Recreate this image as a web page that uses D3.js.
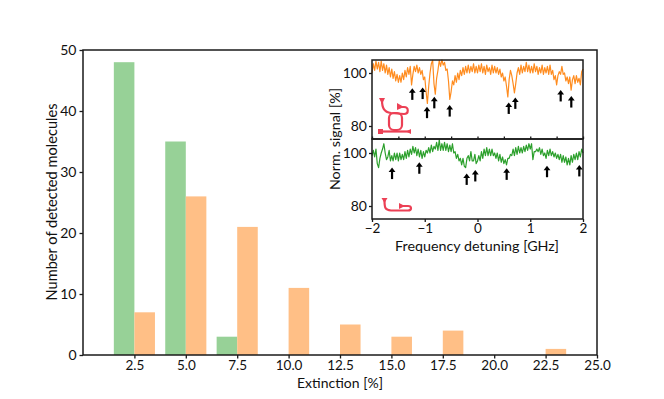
<!DOCTYPE html>
<html>
<head>
<meta charset="utf-8">
<script src="https://cdn.jsdelivr.net/npm/d3@7"></script>
<style>
  html, body { margin: 0; padding: 0; background: #fff; }
  text { font-family: Lato, "Open Sans", sans-serif; fill: #111; }
</style>
</head>
<body>
<svg id="chart" width="664" height="399"></svg>
<script>
// histogram: [left edge of bar, count]
const greenBins = [1.5, 4, 6.5];
const greenCounts = [48, 35, 3];
const orangeBins = [2.5, 5, 7.5, 10, 12.5, 15, 17.5, 22.5];
const orangeCounts = [7, 26, 21, 11, 5, 3, 4, 1];
const mainXTicks = [2.5, 5, 7.5, 10, 12.5, 15, 17.5, 20, 22.5, 25];
const mainYTicks = [0, 10, 20, 30, 40, 50];

// inset traces at 0.025 GHz steps from -2 GHz
const orangeSignal = [
  100, 103.5, 101, 104.5, 101.5, 104, 100.5, 104.5, 101, 103.5,
  100, 103, 99.5, 102, 98.5, 101.5, 98, 100.5, 97, 99.5,
  96.5, 99, 96.5, 100, 97.5, 101, 98.5, 102, 99.5, 102.5,
  95.5, 99.5, 102.5, 100.5, 103, 100, 102, 99.5, 101, 97.5,
  98.5, 93, 88.5, 95, 100, 103.5, 104.8, 96, 92, 98,
  101, 104.8, 102.5, 105, 103, 104, 101, 101.5, 97, 90,
  93, 97, 95.5, 99, 96.5, 100, 97.5, 101, 99, 102,
  99.5, 102.5, 100, 103, 100, 102.5, 100.5, 103.5, 100, 102.5,
  100, 103, 100.5, 103.5, 100, 102.5, 99.5, 103, 100.5, 102,
  99.5, 103, 100, 102.5, 100, 102, 99.5, 101.5, 98.5, 100,
  97, 98.5, 95, 91, 97.5, 101, 99, 96, 92.5, 96,
  100, 102, 99.5, 103, 100, 102.5, 100.5, 104, 100.5, 103,
  100, 102.5, 100, 103.5, 100.5, 102.5, 99.5, 102, 100, 103,
  99.5, 102, 100, 102.5, 99.5, 103, 99.5, 101, 97.5, 99,
  95.5, 99, 100.5, 99.5, 102.5, 99.5, 100, 97, 98.5, 96,
  98.5, 93.5, 97.5, 99, 96, 99, 96.5, 98, 95.5, 100.5,
  101.5
];
const greenSignal = [
  99, 101, 98.5, 101.5, 96, 94.5, 98, 100, 101.5, 103.5,
  100, 97.5, 98.5, 101, 97, 99, 97, 100, 97.5, 100,
  97, 100, 97.5, 99.5, 97.5, 100.5, 98, 101, 98.5, 101.5,
  99.5, 102.5, 100, 102, 99, 101.5, 98.5, 101, 98, 100.5,
  98.5, 101, 100, 102, 100, 103, 100.5, 102.5, 101.5, 104,
  101, 105, 101, 103.5, 101, 104, 101, 103.5, 100.5, 103,
  100.5, 103.5, 100, 100.5, 98, 99.5, 97, 98, 95.5, 98,
  95, 94.5, 98, 99, 97, 100.5, 97, 97, 99.5, 96,
  97, 99, 97, 100.5, 98, 101.5, 99, 102, 99, 101.5,
  99, 101.5, 99, 100, 98, 100, 97, 99.5, 96.5, 98.5,
  96, 97.5, 95.5, 98, 98, 99.5, 99, 101.5, 99, 102,
  99.5, 102.5, 100, 102, 100, 102.5, 100.5, 103, 101, 103.5,
  101.5, 103.5, 97.5, 100.5, 100.5, 101.5, 100.5, 102, 99.5, 101.5,
  99, 100, 98, 101, 99, 101.5, 99, 100.5, 98.5, 100,
  98, 99.5, 97.5, 99.5, 96.5, 99, 96.5, 98.5, 95.5, 98,
  95.5, 99, 96.5, 99.5, 97.5, 100, 97.5, 100.5, 98.5, 101.5,
  100
];
const signalStart = -2;
const signalStep = 0.025;

// arrow tips [GHz] and [%]
const orangeArrowFreq = [-1.236, -1.04, -0.957, -0.819, -0.527, 0.592, 0.717, 1.577, 1.778];
const orangeArrowTip = [94.2, 94.5, 87.3, 91, 87.9, 88.9, 90.8, 93.6, 91.3];
const greenArrowFreq = [-1.62, -1.103, -0.205, -0.042, 0.553, 1.318, 1.93];
const greenArrowTip = [94.5, 96.5, 92.3, 93.6, 94.2, 95.2, 95.5];

const insetXTicks = [-2, -1, 0, 1, 2];
const insetXTicksTop = [-2, -1.5, -1, -0.5, 0, 0.5, 1, 1.5, 2];
const insetYTicks = [80, 100];

const ink = "#1a1a1a";
const iconRed = "#ec4055";
const svg = d3.select("#chart");

/** Applies the heavy spine / tick look to an axis group */
function styleAxis(g, fontSize) {
  g.selectAll(".domain").remove();
  g.selectAll("line").attr("stroke", ink).attr("stroke-width", 1.3);
  g.selectAll("text").attr("font-size", fontSize).style("font-family", "Lato, 'Open Sans', sans-serif");
}

// main histogram
const x = d3.scaleLinear().domain([0, 25]).range([83, 597]);
const y = d3.scaleLinear().domain([0, 50]).range([355, 50]);

function drawBars(bins, counts, color) {
  svg.append("g").selectAll("rect")
    .data(bins)
    .join("rect")
    .attr("x", d => x(d))
    .attr("width", d => x(d + 1) - x(d))
    .attr("y", (d, i) => y(counts[i]))
    .attr("height", (d, i) => y(0) - y(counts[i]))
    .attr("fill", color);
}
drawBars(greenBins, greenCounts, "#97d197");
drawBars(orangeBins, orangeCounts, "#ffbf86");

svg.append("g")
  .attr("transform", "translate(0,355)")
  .call(d3.axisBottom(x).tickValues(mainXTicks).tickFormat(d3.format(".1f")).tickSize(3.5).tickPadding(2))
  .call(styleAxis, 13.5);
svg.append("g")
  .attr("transform", "translate(83,0)")
  .call(d3.axisLeft(y).tickValues(mainYTicks).tickSize(3.5).tickPadding(3))
  .call(styleAxis, 14);

svg.append("rect")
  .attr("x", 83).attr("y", 50).attr("width", 514).attr("height", 305)
  .attr("fill", "none").attr("stroke", ink).attr("stroke-width", 1.5);

svg.append("text").attr("x", 340).attr("y", 388)
  .attr("text-anchor", "middle").attr("font-size", 14).text("Extinction [%]");
svg.append("text").attr("transform", "translate(57,202) rotate(-90)")
  .attr("text-anchor", "middle").attr("font-size", 14.6).text("Number of detected molecules");

// inset
const fx = d3.scaleLinear().domain([-2, 2]).range([372, 583]);
const yTop = d3.scaleLinear().domain([75, 105]).range([139.25, 59.75]);
const yBottom = d3.scaleLinear().domain([75, 105]).range([219.25, 139.75]);

svg.append("rect").attr("x", 372).attr("y", 60).attr("width", 211).attr("height", 159)
  .attr("fill", "#fff");

function drawTrace(values, yScale, color) {
  const line = d3.line()
    .x((d, i) => fx(signalStart + i * signalStep))
    .y(d => yScale(d));
  svg.append("path").attr("d", line(values))
    .attr("fill", "none").attr("stroke", color).attr("stroke-width", 1.2).attr("stroke-linejoin", "round");
}
drawTrace(orangeSignal, yTop, "#ff8c1f");
drawTrace(greenSignal, yBottom, "#2ca02c");

function drawArrows(freqs, tips, yScale) {
  const g = svg.append("g");
  freqs.forEach((f, i) => {
    const ax = fx(f), ay = yScale(tips[i]);
    g.append("line")
      .attr("x1", ax).attr("x2", ax).attr("y1", ay + 3).attr("y2", ay + 11.5)
      .attr("stroke", "#000").attr("stroke-width", 2.2);
    g.append("path")
      .attr("d", d3.line()([[ax, ay], [ax + 3.4, ay + 4.5], [ax - 3.4, ay + 4.5]]) + "Z")
      .attr("fill", "#000");
  });
}
drawArrows(orangeArrowFreq, orangeArrowTip, yTop);
drawArrows(greenArrowFreq, greenArrowTip, yBottom);

// sketches of the devices
const iconTop = svg.append("g").attr("fill", "none").attr("stroke", iconRed).attr("stroke-width", 2.2);
iconTop.append("path").attr("d", "M382,100 C382,108 384,112 391,113 L404,114 C409,114 409,107 404,107 L398,107");
iconTop.append("rect").attr("x", 389).attr("y", 113).attr("width", 13).attr("height", 17).attr("rx", 5);
iconTop.append("path").attr("d", "M380,131.500 L409,131.500");
iconTop.append("path").attr("d", "M379,98 L385,98 L382,104 Z M397,103 L404,107 L397,110 Z M378,129 L383,129 L383,134 L378,134 Z M411,129 L406,131.500 L411,134 Z")
  .attr("fill", iconRed).attr("stroke", "none");

const iconBottom = svg.append("g").attr("fill", "none").attr("stroke", iconRed).attr("stroke-width", 2.2);
iconBottom.append("path").attr("d", "M384.500,200 C384.500,208 385,210 391,210.500 L408,210.500 C412,210.500 412,206 408,206 L400,206");
iconBottom.append("path").attr("d", "M381.500,198 L387.500,198 L384.500,203 Z M399,203 L405,206 L399,209 Z")
  .attr("fill", iconRed).attr("stroke", "none");

// inset axes
svg.append("g")
  .attr("transform", "translate(0,139)")
  .call(d3.axisTop(fx).tickValues(insetXTicksTop).tickFormat("").tickSize(2.5))
  .call(styleAxis, 13);
svg.append("g")
  .attr("transform", "translate(0,219)")
  .call(d3.axisBottom(fx).tickValues(insetXTicks).tickFormat(d => d < 0 ? "\u2212" + (-d) : d).tickSize(3).tickPadding(1))
  .call(styleAxis, 13.5);
svg.append("g")
  .attr("transform", "translate(372,0)")
  .call(d3.axisLeft(yTop).tickValues(insetYTicks).tickSize(3).tickPadding(2))
  .call(styleAxis, 14);
svg.append("g")
  .attr("transform", "translate(372,0)")
  .call(d3.axisLeft(yBottom).tickValues(insetYTicks).tickSize(3).tickPadding(2))
  .call(styleAxis, 14);

svg.append("rect").attr("x", 372).attr("y", 60).attr("width", 211).attr("height", 79)
  .attr("fill", "none").attr("stroke", ink).attr("stroke-width", 1.5);
svg.append("rect").attr("x", 372).attr("y", 139).attr("width", 211).attr("height", 80)
  .attr("fill", "none").attr("stroke", ink).attr("stroke-width", 1.5);

svg.append("text").attr("x", 477).attr("y", 251)
  .attr("text-anchor", "middle").attr("font-size", 14.3).text("Frequency detuning [GHz]");
svg.append("text").attr("transform", "translate(340,139) rotate(-90)")
  .attr("text-anchor", "middle").attr("font-size", 14.3).text("Norm. signal [%]");
</script>
</body>
</html>
